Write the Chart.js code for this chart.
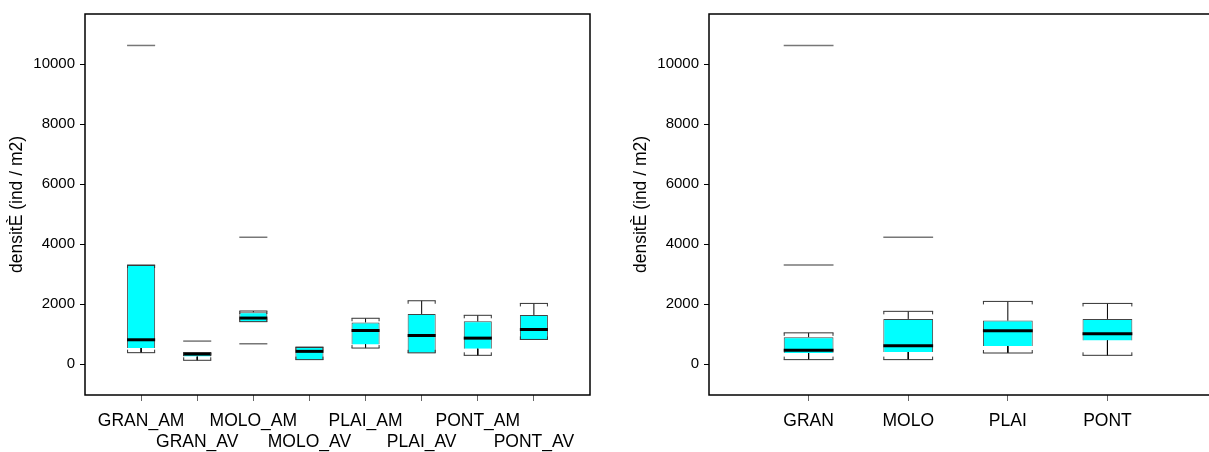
<!DOCTYPE html>
<html>
<head>
<meta charset="utf-8">
<script src="https://cdn.jsdelivr.net/npm/chart.js@4.4.1/dist/chart.umd.min.js"></script>
<style>
  html, body { margin: 0; padding: 0; background: #fff; }
  body { position: relative; width: 1209px; height: 452px; overflow: hidden; }
  #chart-split { position: absolute; left: 0; top: 0; }
  #chart-site { position: absolute; left: 624px; top: 0; }
</style>
</head>
<body>
<canvas id="chart-split" width="600" height="452"></canvas>
<canvas id="chart-site" width="600" height="452"></canvas>
<script>
(function () {
  'use strict';

  /*--------- DATA --------*/

  // left panel : site x upstream/downstream
  const splitLabels = ['GRAN_AM', 'GRAN_AV', 'MOLO_AM', 'MOLO_AV', 'PLAI_AM', 'PLAI_AV', 'PONT_AM', 'PONT_AV'];
  const splitLow    = [386, 132, 1420, 154, 540, 380, 298, 827];
  const splitQ1     = [540, 255, 1420, 154, 662, 380, 518, 827];
  const splitMedian = [816, 340, 1540, 430, 1125, 959, 871, 1158];
  const splitQ3     = [3308, 386, 1735, 573, 1395, 1676, 1433, 1643];
  const splitHigh   = [3308, 386, 1775, 573, 1533, 2117, 1632, 2028];
  const splitOut    = [[10628], [772], [4234, 683], [], [], [], [], []];

  // right panel : site only
  const siteLabels = ['GRAN', 'MOLO', 'PLAI', 'PONT'];
  const siteLow    = [154, 154, 375, 298];
  const siteQ1     = [375, 408, 606, 794];
  const siteMedian = [463, 617, 1114, 1014];
  const siteQ3     = [904, 1511, 1455, 1511];
  const siteHigh   = [1047, 1764, 2095, 2028];
  const siteOut    = [[10628, 3308], [4234], [], []];

  const yTicks = [0, 2000, 4000, 6000, 8000, 10000];
  const yTitle = 'densitÈ (ind / m2)';

  Chart.defaults.font.family = "'Liberation Sans', Arial, Helvetica, sans-serif";
  Chart.defaults.color = '#000';


  /*--------- helpers --------*/

  // plot frame (S-Plus style box around the plot region)
  const framePlugin = {
    id: 'frame',
    afterDraw: function (chart) {
      const a = chart.chartArea;
      const ctx = chart.ctx;
      ctx.save();
      ctx.strokeStyle = '#000';
      ctx.lineWidth = 1.5;
      ctx.strokeRect(a.left, a.top, a.right - a.left, a.bottom - a.top);
      ctx.restore();
    }
  };

  // half a box width = a quarter of the category spacing
  function halfBox(ctx) {
    const x = ctx.chart.scales.x;
    return Math.abs(x.getPixelForValue(1) - x.getPixelForValue(0)) / 4;
  }

  function boxChart(canvasId, labels, low, q1, med, q3, high, outliers, opts) {
    const boxes = labels.map(function (_, i) { return { x: i, y: [q1[i], q3[i]] }; });
    const medians = labels.map(function (_, i) { return { x: i, y: med[i] }; });
    const caps = [];
    const whiskers = [];
    const outPts = [];

    labels.forEach(function (_, i) {
      caps.push({ x: i, y: low[i] }, { x: i, y: high[i] });
      whiskers.push(
        { x: i, y: q3[i] }, { x: i, y: high[i] }, { x: i, y: null },
        { x: i, y: q1[i] }, { x: i, y: low[i] }, { x: i, y: null }
      );
      outliers[i].forEach(function (v) { outPts.push({ x: i, y: v }); });
    });

    // little end ticks on the whisker caps (bracket look)
    const capTicks = {
      id: 'capTicks',
      afterDatasetsDraw: function (chart) {
        const x = chart.scales.x;
        const y = chart.scales.y;
        const ctx = chart.ctx;
        const hw = halfBox({ chart: chart });
        ctx.save();
        ctx.strokeStyle = '#333';
        ctx.lineWidth = 1;
        labels.forEach(function (_, i) {
          const px = x.getPixelForValue(i);
          [[high[i], 3], [low[i], -3]].forEach(function (c) {
            const py = y.getPixelForValue(c[0]);
            ctx.beginPath();
            ctx.moveTo(px - hw + 0.5, py);
            ctx.lineTo(px - hw + 0.5, py + c[1]);
            ctx.moveTo(px + hw - 0.5, py);
            ctx.lineTo(px + hw - 0.5, py + c[1]);
            ctx.stroke();
          });
        });
        ctx.restore();
      }
    };

    function lineMarks(data, color, width, order) {
      return {
        type: 'scatter',
        data: data,
        pointStyle: 'line',
        pointRadius: halfBox,
        pointHoverRadius: halfBox,
        pointBorderColor: color,
        pointBorderWidth: width,
        order: order
      };
    }

    return new Chart(document.getElementById(canvasId), {
      type: 'bar',
      data: {
        datasets: [
          lineMarks(medians, '#000', 3, 0),
          lineMarks(outPts, '#777', 1.5, 1),
          lineMarks(caps, '#333', 1, 1),
          {
            type: 'line',
            data: whiskers,
            borderColor: '#000',
            borderWidth: 1,
            pointRadius: 0,
            spanGaps: false,
            order: 2
          },
          {
            type: 'bar',
            data: boxes,
            backgroundColor: '#00ffff',
            borderColor: '#444',
            borderWidth: 1,
            barPercentage: 0.5,
            categoryPercentage: 1,
            order: 3
          }
        ]
      },
      plugins: [capTicks, framePlugin],
      options: {
        responsive: false,
        animation: false,
        devicePixelRatio: 1,
        events: [],
        layout: { padding: { top: 11, right: opts.padRight, left: 0, bottom: 0 } },
        plugins: {
          legend: { display: false },
          tooltip: { enabled: false }
        },
        scales: {
          x: {
            type: 'linear',
            offset: false,
            min: -1,
            max: opts.xMax,
            afterBuildTicks: function (s) {
              s.ticks = labels.map(function (_, i) { return { value: i }; });
            },
            afterFit: function (s) { s.height = 57; },
            border: { display: false },
            grid: { offset: false, drawOnChartArea: false, tickLength: 6, tickColor: '#666', tickWidth: 1 },
            ticks: {
              autoSkip: false,
              maxRotation: 0,
              minRotation: 0,
              padding: 10,
              color: '#000',
              font: { size: 17.5, lineHeight: 21 / 17.5 },
              callback: function (v, i) { return opts.xLabel(labels[i], i); }
            }
          },
          y: {
            min: -1025,
            max: 11677,
            afterBuildTicks: function (s) {
              s.ticks = yTicks.map(function (v) { return { value: v }; });
            },
            afterFit: function (s) { s.width = 85; },
            border: { display: false },
            grid: { drawOnChartArea: false, tickLength: 5, tickColor: '#000', tickWidth: 1 },
            ticks: {
              padding: 5,
              color: '#000',
              font: { size: 15 },
              callback: function (v) { return String(v); }
            },
            title: {
              display: true,
              text: yTitle,
              color: '#000',
              font: { size: 17.5 },
              padding: { top: 7, bottom: 0 }
            }
          }
        }
      }
    });
  }


  /*--------- CHARTS --------*/

  // left : labels alternate between two rows
  boxChart('chart-split', splitLabels, splitLow, splitQ1, splitMedian, splitQ3, splitHigh, splitOut, {
    xMax: 8,
    padRight: 10,
    xLabel: function (name, i) { return i % 2 === 0 ? [name, ''] : ['', name]; }
  });

  // right : one row, frame runs past the window edge
  boxChart('chart-site', siteLabels, siteLow, siteQ1, siteMedian, siteQ3, siteHigh, siteOut, {
    xMax: 4.13,
    padRight: 4,
    xLabel: function (name) { return name; }
  });

})();
</script>
</body>
</html>
